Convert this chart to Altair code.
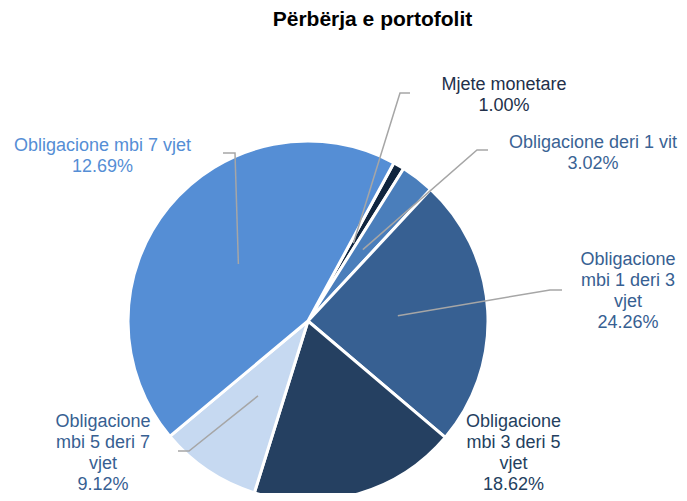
import math
import altair as alt
import pandas as pd

# ---------------- data ----------------
categories = [
    "Mjete monetare",
    "Obligacione deri 1 vit",
    "Obligacione mbi 1 deri 3 vjet",
    "Obligacione mbi 3 deri 5 vjet",
    "Obligacione mbi 5 deri 7 vjet",
    "Obligacione mbi 7 vjet",
]
slice_values = [1.00, 3.02, 24.26, 18.62, 9.12, 43.98]
label_values = ["1.00%", "3.02%", "24.26%", "18.62%", "9.12%", "12.69%"]
title_text = "Përbërja e portofolit"

# ---------------- styling / layout ----------------
W, H = 671, 485
slice_colors = ["#10253F", "#4A7EBB", "#376092", "#254061", "#C6D9F1", "#558ED5"]
text_colors = ["#22304A", "#3A6394", "#376092", "#243F60", "#376092", "#558ED5"]
label_lines = [
    ["Mjete monetare"],
    ["Obligacione deri 1 vit"],
    ["Obligacione", "mbi 1 deri 3", "vjet"],
    ["Obligacione", "mbi 3 deri 5", "vjet"],
    ["Obligacione", "mbi 5 deri 7", "vjet"],
    ["Obligacione mbi 7 vjet"],
]
# label anchor (center x, first baseline y) in chart pixels
label_pos = [(496, 82), (585, 139.5), (620, 257), (505.5, 419), (95, 418.5), (94.5, 142.5)]
# leader line outer points (label end, elbow); None = no leader
leader_pts = [
    [(402, 85), (392, 85)],
    [(480, 142), (469, 142)],
    [(554, 282), (542, 282)],
    None,
    [(170, 443), (181, 443)],
    [(215, 145), (227, 145)],
]
CX, CY, R = 300, 313, 180
start_deg = 28.5
start = math.radians(start_deg)

pie_df = pd.DataFrame({
    "cat": categories,
    "val": slice_values,
    "idx": list(range(len(categories))),
})

# label table
lab_rows = []
for i, c in enumerate(categories):
    x, y = label_pos[i]
    lab_rows.append({
        "cat": c,
        "txt": "\n".join(label_lines[i] + [label_values[i]]),
        "x": x, "y": y, "tcol": text_colors[i],
    })
lab_df = pd.DataFrame(lab_rows)

# leader lines: inner end at slice mid-angle, half radius (derived from data)
total = sum(slice_values)
cum = 0.0
line_rows = []
for i, v in enumerate(slice_values):
    mid = start + 2 * math.pi * (cum + v / 2) / total
    cum += v
    if leader_pts[i] is None:
        continue
    ix = CX + 0.5 * R * math.sin(mid)
    iy = CY - 0.5 * R * math.cos(mid)
    pts = leader_pts[i] + [(ix, iy)]
    for k, (px, py) in enumerate(pts):
        line_rows.append({"cat": categories[i], "k": k, "x": px, "y": py})
line_df = pd.DataFrame(line_rows)

xs = alt.Scale(domain=[0, W], nice=False, zero=False)
ys = alt.Scale(domain=[0, H], nice=False, zero=False, reverse=True)

pie = alt.Chart(pie_df).mark_arc(outerRadius=R, stroke="white", strokeWidth=3).encode(
    theta=alt.Theta("val:Q", stack=True, scale=alt.Scale(range=[start, start + 2 * math.pi])),
    order=alt.Order("idx:Q"),
    color=alt.Color("cat:N", scale=alt.Scale(domain=categories, range=slice_colors), legend=None),
    x=alt.value(CX),
    y=alt.value(CY),
)

leaders = alt.Chart(line_df).mark_line(color="#A6A6A6", strokeWidth=1.5).encode(
    x=alt.X("x:Q", scale=xs, axis=None),
    y=alt.Y("y:Q", scale=ys, axis=None),
    detail="cat:N",
    order="k:Q",
)

labels = alt.Chart(lab_df).mark_text(
    font="Liberation Sans", fontSize=18, align="center", baseline="alphabetic",
    lineBreak="\n", lineHeight=21,
).encode(
    x=alt.X("x:Q", scale=xs, axis=None),
    y=alt.Y("y:Q", scale=ys, axis=None),
    text="txt:N",
    color=alt.Color("tcol:N", scale=None),
)

title = alt.Chart(pd.DataFrame({"t": [title_text], "x": [364.5], "y": [17.5]})).mark_text(
    font="Liberation Sans", fontSize=21, fontWeight="bold", align="center",
    baseline="alphabetic", color="black",
).encode(
    x=alt.X("x:Q", scale=xs, axis=None),
    y=alt.Y("y:Q", scale=ys, axis=None),
    text="t:N",
)

chart = alt.layer(pie, leaders, labels, title).resolve_scale(color="independent").properties(
    width=W, height=H, padding=0, autosize="none",
).configure_view(stroke=None)

chart.save("out.html", embed_options={"renderer": "svg", "actions": False})
